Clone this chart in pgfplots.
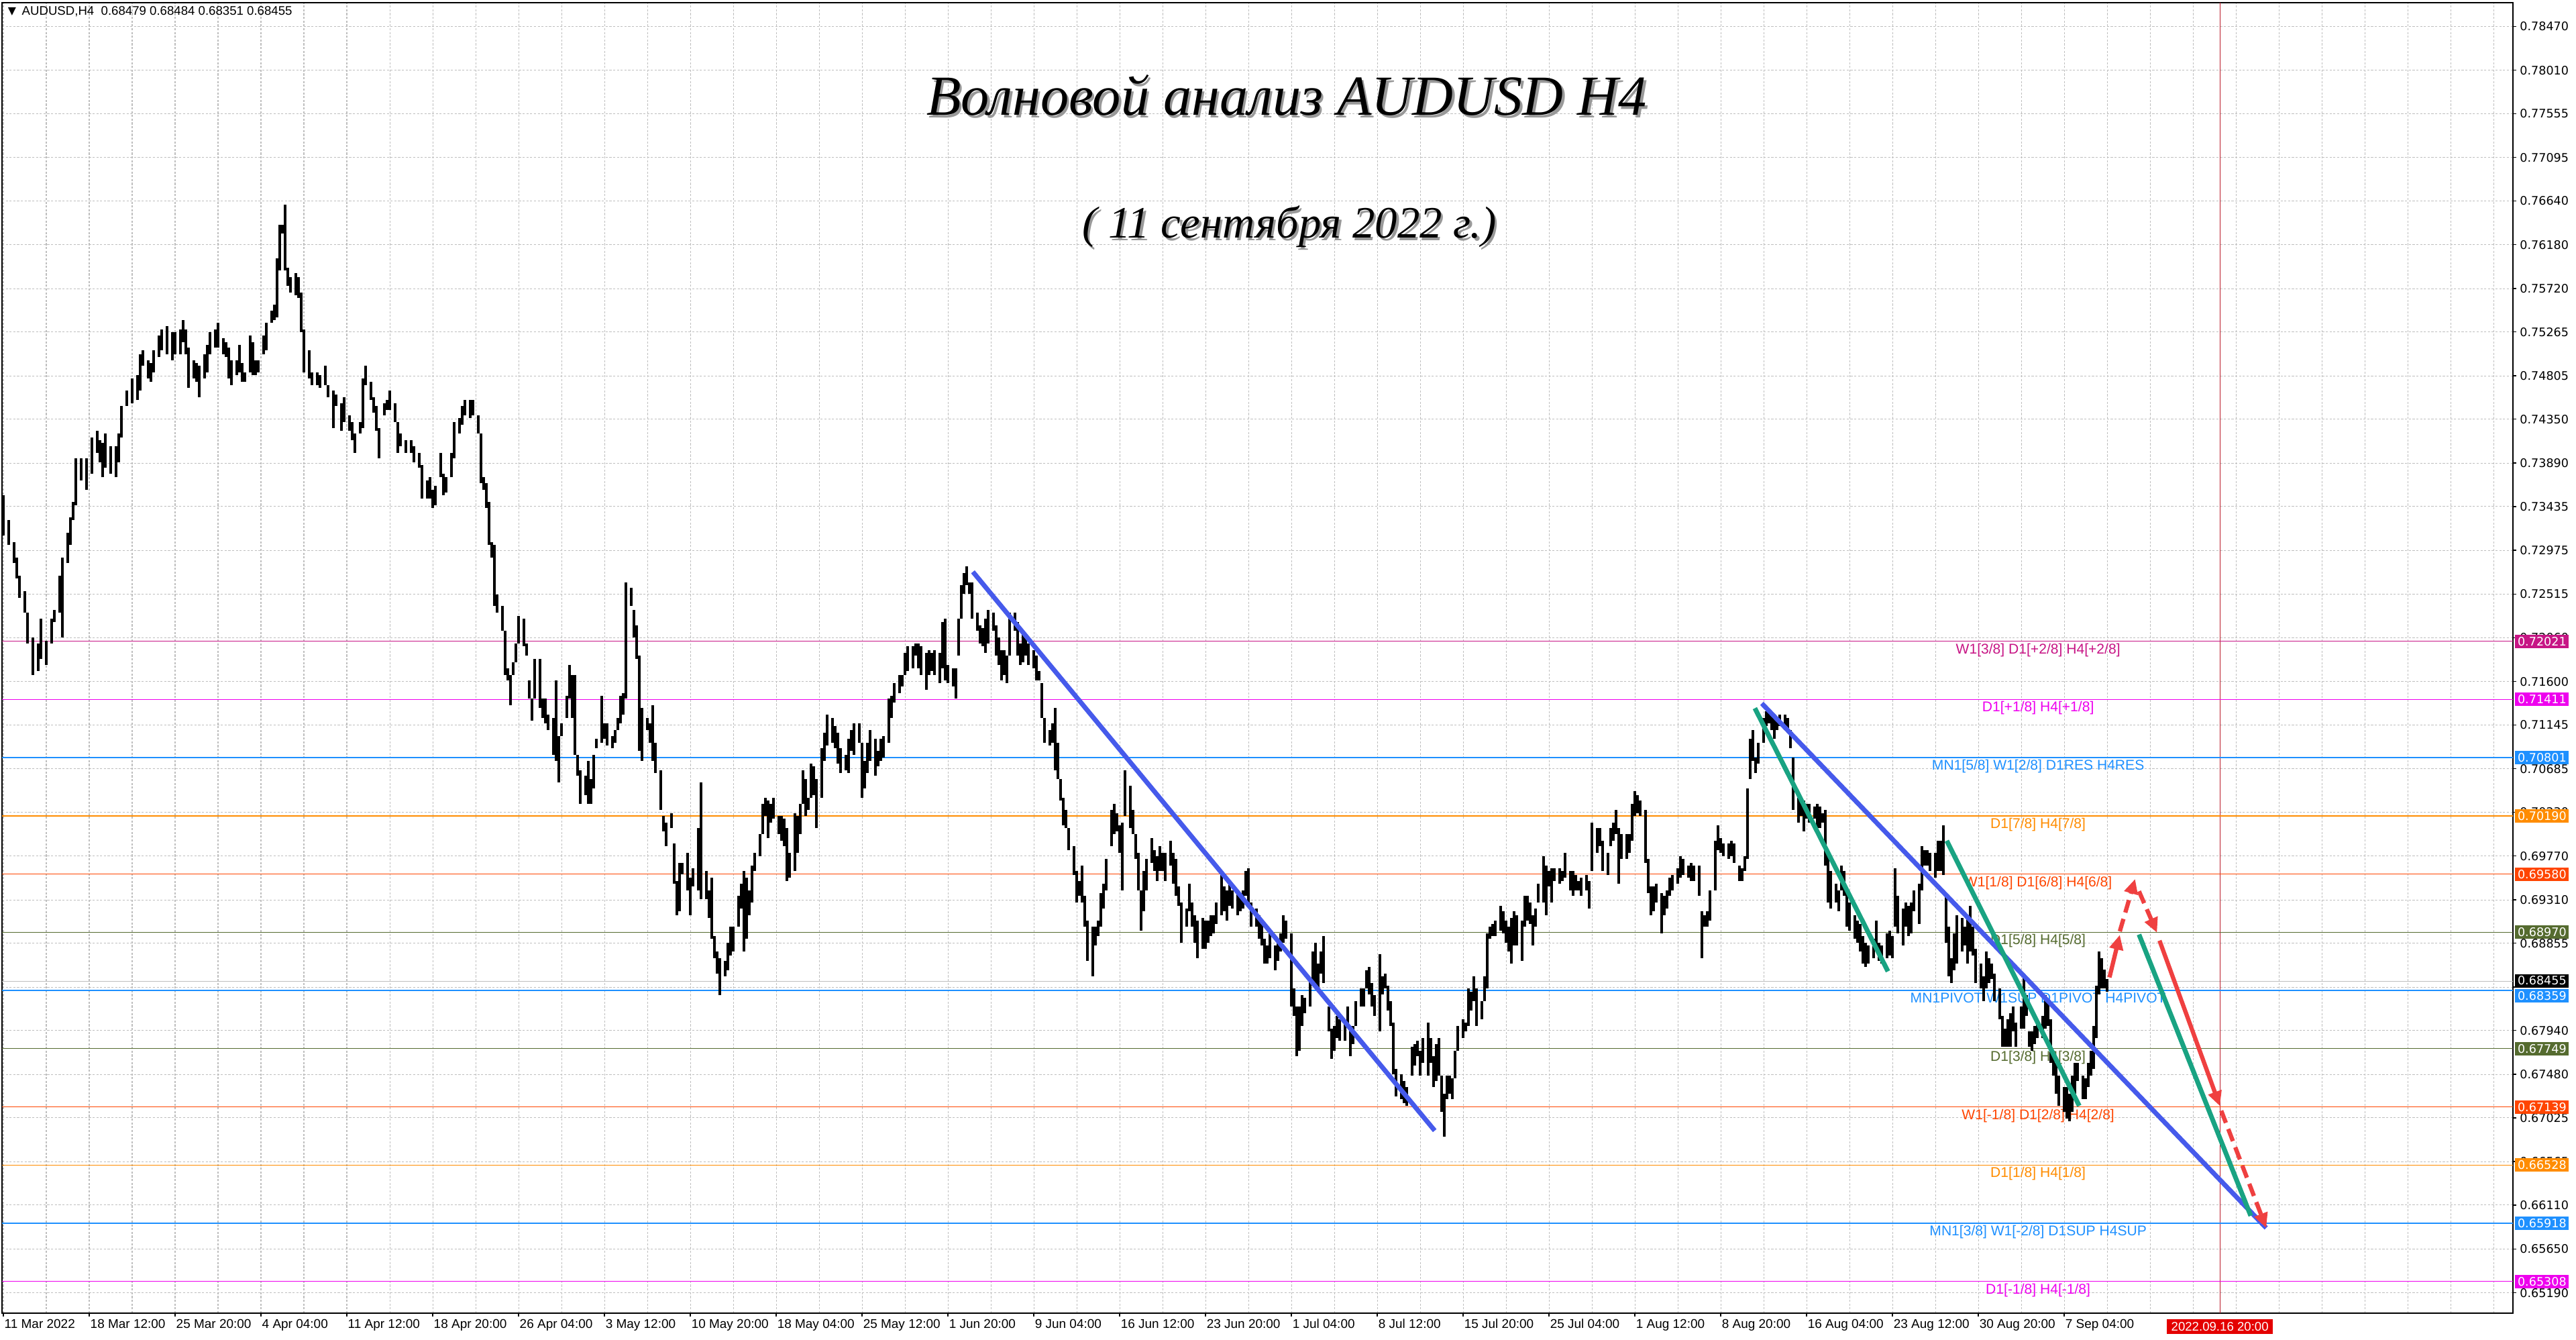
\documentclass[border=0pt]{standalone}
\usepackage{fontspec}
\setmainfont{Liberation Sans}
\newfontfamily\pricefont{DejaVu Sans}
\newfontfamily\titlefont{Liberation Serif}
\usepackage{pgfplots}
\pgfplotsset{compat=1.18}
\usepackage{pgfplotstable}
\usetikzlibrary{arrows.meta}

\definecolor{lvPurple}{RGB}{199,21,133}
\definecolor{lvMagenta}{RGB}{238,0,238}
\definecolor{lvBlue}{RGB}{30,144,255}
\definecolor{lvOrange}{RGB}{255,140,0}
\definecolor{lvRed}{RGB}{255,69,0}
\definecolor{lvOlive}{RGB}{85,107,47}
\definecolor{trBlue}{RGB}{70,90,235}
\definecolor{trGreen}{RGB}{25,163,130}
\definecolor{trRed}{RGB}{239,64,64}
\definecolor{gridgray}{RGB}{190,190,190}
\definecolor{vline}{RGB}{185,25,40}
\definecolor{dateRed}{RGB}{228,0,0}

\pgfplotstableread{
b hi lo
0 0.7355 0.7313
2 0.7329 0.7303
4 0.7306 0.7284
5 0.7290 0.7268
6 0.7271 0.7248
8 0.7255 0.7232
9 0.7232 0.7200
11 0.7206 0.7167
13 0.7200 0.7171
14 0.7226 0.7184
16 0.7203 0.7177
18 0.7226 0.7200
19 0.7235 0.7222
21 0.7271 0.7232
22 0.7290 0.7206
24 0.7316 0.7284
25 0.7332 0.7303
26 0.7348 0.7329
27 0.7394 0.7345
29 0.7394 0.7371
31 0.7394 0.7361
33 0.7416 0.7378
35 0.7423 0.7400
36 0.7413 0.7390
37 0.7410 0.7374
38 0.7420 0.7384
40 0.7407 0.7378
42 0.7407 0.7374
43 0.7420 0.7390
44 0.7449 0.7416
46 0.7465 0.7449
48 0.7478 0.7452
50 0.7481 0.7455
51 0.7503 0.7465
52 0.7507 0.7491
54 0.7497 0.7478
55 0.7494 0.7474
56 0.7507 0.7484
58 0.7523 0.7500
59 0.7529 0.7507
61 0.7533 0.7503
63 0.7526 0.7497
64 0.7526 0.7503
66 0.7529 0.7503
67 0.7539 0.7516
68 0.7529 0.7503
69 0.7510 0.7468
71 0.7497 0.7478
72 0.7494 0.7474
73 0.7491 0.7458
75 0.7503 0.7478
76 0.7513 0.7484
77 0.7526 0.7503
79 0.7529 0.7510
80 0.7536 0.7510
82 0.7520 0.7503
83 0.7516 0.7500
84 0.7510 0.7478
85 0.7497 0.7471
87 0.7497 0.7481
88 0.7513 0.7484
89 0.7494 0.7474
90 0.7484 0.7474
92 0.7523 0.7484
93 0.7516 0.7481
94 0.7497 0.7481
95 0.7497 0.7484
97 0.7523 0.7503
98 0.7536 0.7507
100 0.7549 0.7536
101 0.7555 0.7539
102 0.7604 0.7542
103 0.7639 0.7591
104 0.7639 0.7630
105 0.7660 0.7591
106 0.7594 0.7575
107 0.7584 0.7568
109 0.7588 0.7565
110 0.7584 0.7562
111 0.7568 0.7526
112 0.7529 0.7484
114 0.7507 0.7478
115 0.7484 0.7471
117 0.7484 0.7471
118 0.7481 0.7468
120 0.7491 0.7471
121 0.7471 0.7458
123 0.7465 0.7426
124 0.7461 0.7449
126 0.7452 0.7423
127 0.7458 0.7432
129 0.7439 0.7423
130 0.7432 0.7413
131 0.7420 0.7400
133 0.7432 0.7420
134 0.7478 0.7426
135 0.7491 0.7471
137 0.7474 0.7455
138 0.7458 0.7442
139 0.7449 0.7423
140 0.7426 0.7394
142 0.7452 0.7439
143 0.7455 0.7445
144 0.7465 0.7445
146 0.7452 0.7432
147 0.7432 0.7400
148 0.7420 0.7407
150 0.7413 0.7400
152 0.7413 0.7400
153 0.7407 0.7390
155 0.7400 0.7384
156 0.7387 0.7352
158 0.7371 0.7352
159 0.7374 0.7352
160 0.7361 0.7342
161 0.7365 0.7345
163 0.7400 0.7374
164 0.7378 0.7355
165 0.7374 0.7358
167 0.7400 0.7374
168 0.7432 0.7394
170 0.7436 0.7420
171 0.7449 0.7429
172 0.7455 0.7439
174 0.7455 0.7436
175 0.7455 0.7439
177 0.7439 0.7420
178 0.7420 0.7368
179 0.7374 0.7361
180 0.7368 0.7342
181 0.7348 0.7303
182 0.7306 0.7290
183 0.7303 0.7239
184 0.7251 0.7232
186 0.7239 0.7213
187 0.7213 0.7167
188 0.7174 0.7161
189 0.7167 0.7135
190 0.7180 0.7167
191 0.7200 0.7180
192 0.7229 0.7200
194 0.7226 0.7197
195 0.7200 0.7187
196 0.7161 0.7142
197 0.7142 0.7119
198 0.7184 0.7142
200 0.7184 0.7132
201 0.7142 0.7122
202 0.7142 0.7116
203 0.7125 0.7109
205 0.7122 0.7083
206 0.7161 0.7077
207 0.7103 0.7054
208 0.7116 0.7103
210 0.7145 0.7122
211 0.7177 0.7142
212 0.7167 0.7122
213 0.7167 0.7083
214 0.7083 0.7061
215 0.7067 0.7032
217 0.7061 0.7041
218 0.7077 0.7032
219 0.7058 0.7032
220 0.7083 0.7048
221 0.7100 0.7090
223 0.7145 0.7096
224 0.7116 0.7100
225 0.7116 0.7093
227 0.7103 0.7090
228 0.7109 0.7096
229 0.7122 0.7109
230 0.7145 0.7116
231 0.7148 0.7125
232 0.7264 0.7142
234 0.7258 0.7239
235 0.7235 0.7206
236 0.7219 0.7184
237 0.7187 0.7087
238 0.7132 0.7077
240 0.7122 0.7109
241 0.7116 0.7096
242 0.7135 0.7077
243 0.7096 0.7064
245 0.7067 0.7025
246 0.7019 0.7003
247 0.7012 0.6987
249 0.7022 0.7006
250 0.6990 0.6948
251 0.6951 0.6915
252 0.6970 0.6919
253 0.6970 0.6958
255 0.6980 0.6941
256 0.6954 0.6915
257 0.6964 0.6945
259 0.7006 0.6941
260 0.7054 0.6932
262 0.6961 0.6932
263 0.6941 0.6912
264 0.6954 0.6890
265 0.6893 0.6870
266 0.6877 0.6854
267 0.6870 0.6831
269 0.6867 0.6851
270 0.6886 0.6857
271 0.6903 0.6873
272 0.6903 0.6877
274 0.6935 0.6903
275 0.6948 0.6922
276 0.6961 0.6877
277 0.6954 0.6890
278 0.6941 0.6915
279 0.6967 0.6928
280 0.6980 0.6961
282 0.7000 0.6977
283 0.7032 0.7000
284 0.7038 0.7019
285 0.7035 0.6996
286 0.7032 0.7012
287 0.7038 0.7016
289 0.7019 0.7000
290 0.7019 0.6993
291 0.7016 0.6987
292 0.7006 0.6951
293 0.6980 0.6954
295 0.7022 0.6961
296 0.7019 0.6980
297 0.7032 0.7000
298 0.7067 0.7032
299 0.7058 0.7019
300 0.7038 0.7025
301 0.7074 0.7038
302 0.7071 0.7041
303 0.7058 0.7006
305 0.7090 0.7038
306 0.7106 0.7077
307 0.7125 0.7093
309 0.7122 0.7096
310 0.7113 0.7090
311 0.7106 0.7074
312 0.7090 0.7064
314 0.7083 0.7067
315 0.7100 0.7064
316 0.7109 0.7087
317 0.7116 0.7083
319 0.7116 0.7096
320 0.7096 0.7038
321 0.7077 0.7048
322 0.7096 0.7064
323 0.7109 0.7077
325 0.7100 0.7061
326 0.7087 0.7071
327 0.7100 0.7077
328 0.7103 0.7080
330 0.7142 0.7096
331 0.7145 0.7122
332 0.7158 0.7138
334 0.7167 0.7148
335 0.7167 0.7155
336 0.7190 0.7167
337 0.7197 0.7171
339 0.7197 0.7174
340 0.7200 0.7187
341 0.7200 0.7174
342 0.7197 0.7167
344 0.7190 0.7151
345 0.7193 0.7167
346 0.7190 0.7171
347 0.7193 0.7167
349 0.7190 0.7158
350 0.7222 0.7174
351 0.7226 0.7161
352 0.7177 0.7158
354 0.7174 0.7155
355 0.7174 0.7142
356 0.7226 0.7187
357 0.7261 0.7226
358 0.7274 0.7252
359 0.7281 0.7261
360 0.7264 0.7252
361 0.7264 0.7226
363 0.7232 0.7213
364 0.7219 0.7200
365 0.7216 0.7197
366 0.7226 0.7190
367 0.7235 0.7200
369 0.7232 0.7213
370 0.7219 0.7187
371 0.7206 0.7177
372 0.7193 0.7161
373 0.7193 0.7167
374 0.7187 0.7158
375 0.7232 0.7187
377 0.7232 0.7213
378 0.7222 0.7187
379 0.7200 0.7177
380 0.7213 0.7180
381 0.7206 0.7187
382 0.7200 0.7177
384 0.7193 0.7174
385 0.7187 0.7161
386 0.7171 0.7161
387 0.7158 0.7122
388 0.7122 0.7096
390 0.7109 0.7093
391 0.7116 0.7096
392 0.7132 0.7067
393 0.7096 0.7058
394 0.7058 0.7035
395 0.7038 0.7009
396 0.7025 0.7006
397 0.7006 0.6983
399 0.6987 0.6957
400 0.6961 0.6928
401 0.6951 0.6935
402 0.6967 0.6928
403 0.6935 0.6903
404 0.6909 0.6867
406 0.6903 0.6851
407 0.6903 0.6883
408 0.6909 0.6893
409 0.6938 0.6903
410 0.6948 0.6922
411 0.6974 0.6941
413 0.7025 0.6987
414 0.7032 0.7000
415 0.7022 0.7003
416 0.7009 0.6980
417 0.7012 0.6941
418 0.7067 0.7019
420 0.7051 0.7006
421 0.7025 0.7000
422 0.7000 0.6974
423 0.6980 0.6941
424 0.6941 0.6899
425 0.6961 0.6919
426 0.6974 0.6941
428 0.6996 0.6970
429 0.6983 0.6961
430 0.6977 0.6951
431 0.6987 0.6961
432 0.6980 0.6961
433 0.6980 0.6951
435 0.6993 0.6967
436 0.6980 0.6948
437 0.6974 0.6935
438 0.6945 0.6925
439 0.6928 0.6886
441 0.6922 0.6903
442 0.6948 0.6919
443 0.6928 0.6903
444 0.6915 0.6886
445 0.6909 0.6870
447 0.6912 0.6880
448 0.6909 0.6880
449 0.6909 0.6886
450 0.6915 0.6893
451 0.6915 0.6896
452 0.6928 0.6906
454 0.6957 0.6915
455 0.6945 0.6919
456 0.6941 0.6909
457 0.6948 0.6925
458 0.6941 0.6922
460 0.6941 0.6915
461 0.6938 0.6919
462 0.6941 0.6922
463 0.6961 0.6935
464 0.6964 0.6928
465 0.6928 0.6903
467 0.6922 0.6903
468 0.6915 0.6890
469 0.6906 0.6883
470 0.6890 0.6864
471 0.6883 0.6864
472 0.6896 0.6870
474 0.6883 0.6857
475 0.6890 0.6867
476 0.6896 0.6877
477 0.6915 0.6886
478 0.6909 0.6890
480 0.6896 0.6819
481 0.6838 0.6809
482 0.6819 0.6767
483 0.6819 0.6773
484 0.6831 0.6799
485 0.6828 0.6812
487 0.6848 0.6819
488 0.6877 0.6841
489 0.6886 0.6838
490 0.6864 0.6838
491 0.6877 0.6854
492 0.6893 0.6844
494 0.6819 0.6793
495 0.6796 0.6764
496 0.6799 0.6773
497 0.6809 0.6786
498 0.6806 0.6783
500 0.6802 0.6783
501 0.6819 0.6799
502 0.6799 0.6767
503 0.6799 0.6780
504 0.6825 0.6799
506 0.6838 0.6819
507 0.6838 0.6819
508 0.6857 0.6838
509 0.6861 0.6832
510 0.6844 0.6819
511 0.6831 0.6809
513 0.6874 0.6793
514 0.6851 0.6832
515 0.6854 0.6838
516 0.6841 0.6815
517 0.6825 0.6799
518 0.6802 0.6748
519 0.6754 0.6725
521 0.6748 0.6722
522 0.6741 0.6718
523 0.6735 0.6715
525 0.6777 0.6747
526 0.6780 0.6757
527 0.6783 0.6767
528 0.6773 0.6747
529 0.6786 0.6760
531 0.6802 0.6747
532 0.6786 0.6760
533 0.6767 0.6735
534 0.6780 0.6741
535 0.6786 0.6747
536 0.6747 0.6709
537 0.6728 0.6683
538 0.6747 0.6722
539 0.6747 0.6728
540 0.6744 0.6722
541 0.6773 0.6744
542 0.6799 0.6773
544 0.6806 0.6786
545 0.6802 0.6793
546 0.6838 0.6799
547 0.6835 0.6815
548 0.6851 0.6825
549 0.6838 0.6799
551 0.6825 0.6806
552 0.6851 0.6825
553 0.6896 0.6838
554 0.6903 0.6890
555 0.6906 0.6893
556 0.6909 0.6893
558 0.6925 0.6899
559 0.6919 0.6896
560 0.6909 0.6886
561 0.6903 0.6877
562 0.6912 0.6864
563 0.6919 0.6883
564 0.6915 0.6883
566 0.6909 0.6867
567 0.6935 0.6903
568 0.6935 0.6909
569 0.6928 0.6906
570 0.6915 0.6883
571 0.6922 0.6903
572 0.6948 0.6928
574 0.6977 0.6928
575 0.6967 0.6915
576 0.6961 0.6945
577 0.6964 0.6928
578 0.6964 0.6951
580 0.6964 0.6948
581 0.6961 0.6951
582 0.6980 0.6954
584 0.6961 0.6941
585 0.6961 0.6935
586 0.6957 0.6941
587 0.6951 0.6941
588 0.6954 0.6935
590 0.6957 0.6941
591 0.6951 0.6922
592 0.7012 0.6961
594 0.7006 0.6980
595 0.7006 0.6987
596 0.6993 0.6961
598 0.6980 0.6957
599 0.7006 0.6987
600 0.7012 0.6993
601 0.7025 0.7000
602 0.7006 0.6948
603 0.7000 0.6974
605 0.7000 0.6974
606 0.7000 0.6980
607 0.7032 0.6993
608 0.7045 0.7019
609 0.7041 0.7022
610 0.7035 0.7019
612 0.7025 0.6970
613 0.6974 0.6938
614 0.6945 0.6915
615 0.6945 0.6919
616 0.6948 0.6928
618 0.6938 0.6896
619 0.6935 0.6915
620 0.6941 0.6922
621 0.6954 0.6935
622 0.6957 0.6941
624 0.6964 0.6948
625 0.6977 0.6954
626 0.6974 0.6957
628 0.6967 0.6954
629 0.6970 0.6951
630 0.6967 0.6951
632 0.6967 0.6935
633 0.6919 0.6870
634 0.6915 0.6903
635 0.6919 0.6903
636 0.6941 0.6909
638 0.6993 0.6941
639 0.7009 0.6983
640 0.6996 0.6980
641 0.6990 0.6977
643 0.6990 0.6974
644 0.6993 0.6977
645 0.6990 0.6970
647 0.6967 0.6951
648 0.6964 0.6951
649 0.6977 0.6961
650 0.7048 0.6974
651 0.7100 0.7058
652 0.7109 0.7077
653 0.7080 0.7064
654 0.7096 0.7074
656 0.7122 0.7096
657 0.7129 0.7113
658 0.7129 0.7116
659 0.7125 0.7109
660 0.7122 0.7100
661 0.7122 0.7109
662 0.7125 0.7113
664 0.7125 0.7109
665 0.7122 0.7106
666 0.7109 0.7090
667 0.7080 0.7025
669 0.7038 0.7012
670 0.7038 0.7019
671 0.7035 0.7003
672 0.7032 0.7016
673 0.7032 0.7012
675 0.7029 0.7016
676 0.7032 0.7006
677 0.7029 0.7006
678 0.7022 0.7012
679 0.7025 0.6967
680 0.6980 0.6928
681 0.6961 0.6922
683 0.6948 0.6928
684 0.6941 0.6919
685 0.6967 0.6941
686 0.6961 0.6935
687 0.6941 0.6903
688 0.6928 0.6899
690 0.6915 0.6890
691 0.6909 0.6886
692 0.6906 0.6877
693 0.6893 0.6864
694 0.6886 0.6861
695 0.6883 0.6864
697 0.6890 0.6870
698 0.6909 0.6880
699 0.6886 0.6867
700 0.6883 0.6864
702 0.6896 0.6870
703 0.6899 0.6873
704 0.6893 0.6870
705 0.6964 0.6903
706 0.6935 0.6896
708 0.6922 0.6883
709 0.6928 0.6903
710 0.6925 0.6893
711 0.6928 0.6896
712 0.6941 0.6919
714 0.6948 0.6906
715 0.6987 0.6941
716 0.6983 0.6967
717 0.6983 0.6967
718 0.6980 0.6961
720 0.6980 0.6954
721 0.6993 0.6961
722 0.6993 0.6961
723 0.7009 0.6957
724 0.6935 0.6886
725 0.6903 0.6851
726 0.6870 0.6844
727 0.6896 0.6857
728 0.6915 0.6864
730 0.6912 0.6877
731 0.6903 0.6883
732 0.6915 0.6864
733 0.6925 0.6877
734 0.6903 0.6873
735 0.6880 0.6844
737 0.6864 0.6838
738 0.6851 0.6825
739 0.6877 0.6838
740 0.6870 0.6844
741 0.6864 0.6848
742 0.6854 0.6825
744 0.6838 0.6806
745 0.6809 0.6777
746 0.6796 0.6777
747 0.6806 0.6777
748 0.6812 0.6777
749 0.6819 0.6793
750 0.6802 0.6777
752 0.6819 0.6796
753 0.6854 0.6796
754 0.6831 0.6809
755 0.6793 0.6777
756 0.6793 0.6773
757 0.6799 0.6780
758 0.6806 0.6786
760 0.6809 0.6786
761 0.6831 0.6796
762 0.6825 0.6799
763 0.6806 0.6760
764 0.6773 0.6747
765 0.6760 0.6728
766 0.6747 0.6715
768 0.6735 0.6709
769 0.6735 0.6702
770 0.6728 0.6699
771 0.6747 0.6709
772 0.6760 0.6728
773 0.6760 0.6741
775 0.6747 0.6722
776 0.6744 0.6722
777 0.6760 0.6735
778 0.6773 0.6747
779 0.6799 0.6754
780 0.6841 0.6786
781 0.6877 0.6832
782 0.6870 0.6838
783 0.6858 0.6838
784 0.6848 0.6835
}\candles

\newcommand{\lvl}[4]{%
  \addplot[#1, line width=#3, forget plot] coordinates {(-0.5,#2) (935.25,#2)};
  \node[text=#1, anchor=base, inner sep=0pt, font=\fontsize{6}{7}\selectfont, yshift=-0.185cm] at (axis cs:758.25,#2) {#4};
}
\newcommand{\pbox}[5]{%
  \node[fill=#1, text=#2, anchor=west, minimum width=0.8cm, minimum height=0.2cm, inner sep=0pt, font=\pricefont\fontsize{5}{6}\selectfont] at ([xshift=0.025cm,yshift=#5]#3) {#4};
}

\begin{document}
\begin{tikzpicture}
\begin{axis}[
  at={(0,0)}, anchor=south west, scale only axis,
  width=37.43cm, height=19.53cm,
  xmin=-0.5, xmax=935.25, ymin=0.64976, ymax=0.78718,
  clip=false,
  axis line style={black, line width=0.45pt},
  tick align=outside,
  major tick length=0.045cm,
  minor tick length=0pt,
  tick style={black, line width=0.4pt},
  xtick={0,32,...,768},
  xticklabels={11 Mar 2022,18 Mar 12:00,25 Mar 20:00,4 Apr 04:00,11 Apr 12:00,18 Apr 20:00,26 Apr 04:00,3 May 12:00,10 May 20:00,18 May 04:00,25 May 12:00,1 Jun 20:00,9 Jun 04:00,16 Jun 12:00,23 Jun 20:00,1 Jul 04:00,8 Jul 12:00,15 Jul 20:00,25 Jul 04:00,1 Aug 12:00,8 Aug 20:00,16 Aug 04:00,23 Aug 12:00,30 Aug 20:00,7 Sep 04:00},
  minor xtick={16,48,80,112,144,176,208,240,272,304,336,368,400,432,464,496,528,560,592,624,656,688,720,752,784,800,816,832,848,864,880,896,912,928},
  ytick={0.65190,0.65650,0.66110,0.66565,0.67025,0.67480,0.67940,0.68395,0.68855,0.69310,0.69770,0.70230,0.70685,0.71145,0.71600,0.72060,0.72515,0.72975,0.73435,0.73890,0.74350,0.74805,0.75265,0.75720,0.76180,0.76640,0.77095,0.77555,0.78010,0.78470},
  yticklabels={0.65190,0.65650,0.66110,0.66565,0.67025,0.67480,0.67940,,0.68855,0.69310,0.69770,0.70230,0.70685,0.71145,0.71600,0.72060,0.72515,0.72975,0.73435,0.73890,0.74350,0.74805,0.75265,0.75720,0.76180,0.76640,0.77095,0.77555,0.78010,0.78470},
  xtick pos=lower, ytick pos=right, yticklabel pos=right,
  grid=both,
  major grid style={gridgray, line width=0.3pt, dash pattern=on 0.9pt off 0.7pt},
  minor grid style={gridgray, line width=0.3pt, dash pattern=on 0.9pt off 0.7pt},
  xticklabel style={anchor=north west, inner sep=0pt, font=\fontsize{5.4}{6}\selectfont, xshift=0.01cm, yshift=-0.04cm},
  yticklabel style={anchor=west, inner sep=0pt, font=\pricefont\fontsize{5}{6}\selectfont, xshift=0.05cm},
]
% current price line and date line
\addplot[gridgray, line width=0.35pt, forget plot] coordinates {(-0.5,0.68455) (935.25,0.68455)};
\addplot[vline, line width=0.35pt, forget plot] coordinates {(826,0.64976) (826,0.78718)};
% levels
\lvl{lvPurple}{0.72021}{0.3pt}{W1[3/8] D1[+2/8] H4[+2/8]}
\lvl{lvMagenta}{0.71411}{0.3pt}{D1[+1/8] H4[+1/8]}
\lvl{lvBlue}{0.70801}{0.6pt}{MN1[5/8] W1[2/8] D1RES H4RES}
\lvl{lvOrange}{0.70190}{0.3pt}{D1[7/8] H4[7/8]}
\lvl{lvRed}{0.69580}{0.3pt}{W1[1/8] D1[6/8] H4[6/8]}
\lvl{lvOlive}{0.68970}{0.3pt}{D1[5/8] H4[5/8]}
\lvl{lvBlue}{0.68359}{0.6pt}{MN1PIVOT W1SUP D1PIVOT H4PIVOT}
\lvl{lvOlive}{0.67749}{0.3pt}{D1[3/8] H4[3/8]}
\lvl{lvRed}{0.67139}{0.3pt}{W1[-1/8] D1[2/8] H4[2/8]}
\lvl{lvOrange}{0.66528}{0.3pt}{D1[1/8] H4[1/8]}
\lvl{lvBlue}{0.65918}{0.6pt}{MN1[3/8] W1[-2/8] D1SUP H4SUP}
\lvl{lvMagenta}{0.65308}{0.3pt}{D1[-1/8] H4[-1/8]}
% candles (high-low ranges)
\addplot[black, only marks, mark=*, mark size=0pt, mark options={draw=none, fill=none}, forget plot,
  error bars/.cd, y dir=plus, y explicit, error mark=none,
  error bar style={black, line width=1.0pt}]
  table[x=b, y=lo, y error expr=\thisrow{hi}-\thisrow{lo}] {\candles};
% trend lines
\addplot[trBlue, line width=2pt, forget plot] coordinates {(361.3,0.7275) (533.4,0.6689)};
\addplot[trBlue, line width=2pt, forget plot] coordinates {(655.3,0.7137) (843.25,0.6587)};
\addplot[trGreen, line width=2pt, forget plot] coordinates {(652.7,0.7132) (702.3,0.6856)};
\addplot[trGreen, line width=2pt, forget plot] coordinates {(724.2,0.6993) (773.6,0.6715)};
\addplot[trGreen, line width=2pt, forget plot] coordinates {(795.85,0.68947) (837.5,0.65997)};
% forecast arrows
\addplot[trRed, line width=1.8pt, forget plot, -{Triangle[length=0.22cm,width=0.2cm]}] coordinates {(784.85,0.68497) (788.7,0.68943)};
\addplot[trRed, line width=1.8pt, forget plot, dash pattern=on 5.5pt off 2.8pt, -{Triangle[length=0.22cm,width=0.2cm]}] coordinates {(788.7,0.68980) (794.4,0.69529)};
\addplot[trRed, line width=1.8pt, forget plot, dash pattern=on 5.5pt off 2.8pt, -{Triangle[length=0.22cm,width=0.2cm]}] coordinates {(795.85,0.69400) (802.55,0.68966)};
\addplot[trRed, line width=1.8pt, forget plot, -{Triangle[length=0.22cm,width=0.2cm]}] coordinates {(803.5,0.68883) (826,0.67148)};
\addplot[trRed, line width=1.8pt, forget plot, dash pattern=on 5.5pt off 2.8pt, -{Triangle[length=0.22cm,width=0.2cm]}] coordinates {(826.5,0.67099) (843.25,0.65870)};
% anchors for the price boxes
\coordinate (Pa) at (axis cs:935.25,0.72021);
\coordinate (Pb) at (axis cs:935.25,0.71411);
\coordinate (Pc) at (axis cs:935.25,0.70801);
\coordinate (Pd) at (axis cs:935.25,0.70190);
\coordinate (Pe) at (axis cs:935.25,0.69580);
\coordinate (Pf) at (axis cs:935.25,0.68970);
\coordinate (Pk) at (axis cs:935.25,0.68455);
\coordinate (Pg) at (axis cs:935.25,0.68359);
\coordinate (Ph) at (axis cs:935.25,0.67749);
\coordinate (Pi) at (axis cs:935.25,0.67139);
\coordinate (Pj) at (axis cs:935.25,0.66528);
\coordinate (Pl) at (axis cs:935.25,0.65918);
\coordinate (Pm) at (axis cs:935.25,0.65308);
\coordinate (Dt) at (axis cs:826,0.64976);
\end{axis}
% price boxes on the right scale
\pbox{lvPurple}{white}{Pa}{0.72021}{0cm}
\pbox{lvMagenta}{white}{Pb}{0.71411}{0cm}
\pbox{lvBlue}{white}{Pc}{0.70801}{0cm}
\pbox{lvOrange}{white}{Pd}{0.70190}{0cm}
\pbox{lvRed}{white}{Pe}{0.69580}{0cm}
\pbox{lvOlive}{white}{Pf}{0.68970}{0cm}
\pbox{black}{white}{Pk}{0.68455}{0.01cm}
\pbox{lvBlue}{white}{Pg}{0.68359}{-0.075cm}
\pbox{lvOlive}{white}{Ph}{0.67749}{0cm}
\pbox{lvRed}{white}{Pi}{0.67139}{0cm}
\pbox{lvOrange}{white}{Pj}{0.66528}{0cm}
\pbox{lvBlue}{white}{Pl}{0.65918}{0cm}
\pbox{lvMagenta}{white}{Pm}{0.65308}{0cm}
% date box
\node[fill=dateRed, text=white, anchor=north, minimum width=1.58cm, minimum height=0.22cm, inner sep=0pt, font=\fontsize{5.3}{6}\selectfont] at ([yshift=-0.08cm]Dt) {2022.09.16 20:00};
% header
\node[anchor=center, inner sep=0pt, font=\pricefont\fontsize{4.5}{5}\selectfont] at (0.15,19.40) {▼};
\node[anchor=west, inner sep=0pt, font=\fontsize{5.3}{6}\selectfont] at (0.29,19.40) {AUDUSD,H4\ \ 0.68479 0.68484 0.68351 0.68455};
% titles with shadow
\node[text=black!40, font=\titlefont\itshape\fontsize{24}{28}\selectfont] at (19.185,18.115) {Волновой анализ AUDUSD H4};
\node[text=black, font=\titlefont\itshape\fontsize{24}{28}\selectfont] at (19.15,18.15) {Волновой анализ AUDUSD H4};
\node[text=black!40, font=\titlefont\itshape\fontsize{19}{24}\selectfont] at (19.225,16.155) {( 11 сентября 2022 г.)};
\node[text=black, font=\titlefont\itshape\fontsize{19}{24}\selectfont] at (19.19,16.19) {( 11 сентября 2022 г.)};
\pgfresetboundingbox
\path[use as bounding box] (-0.03,-0.39) rectangle (38.37,19.57);
\end{tikzpicture}
\end{document}
